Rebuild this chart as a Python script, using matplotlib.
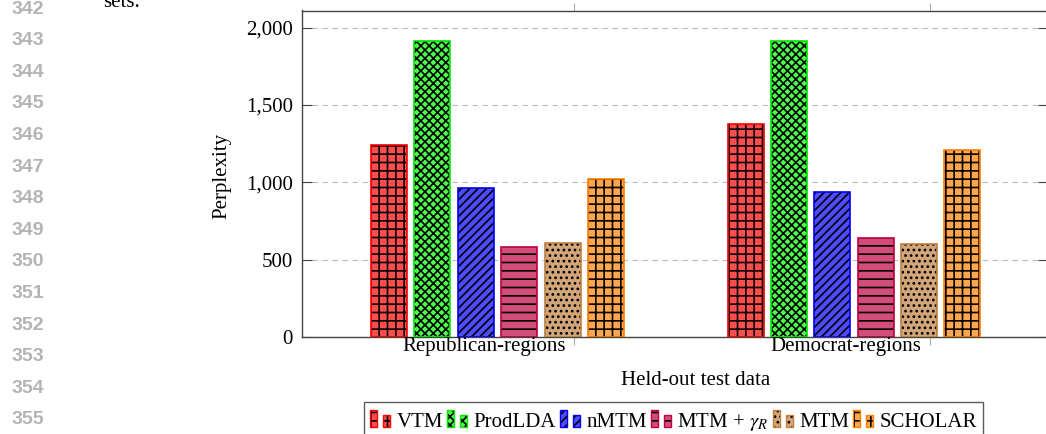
import matplotlib
matplotlib.use("Agg")
import matplotlib.pyplot as plt
from matplotlib.patches import Rectangle
from matplotlib.legend_handler import HandlerBase
import numpy as np

# data
groups = ["Republican-regions", "Democrat-regions"]
models = ["VTM", "ProdLDA", "nMTM", r"MTM + $\gamma_R$", "MTM", "SCHOLAR"]
republican = [1240, 1910, 960, 580, 610, 1020]
democrat = [1375, 1910, 940, 640, 600, 1210]
yticks = [0, 500, 1000, 1500, 2000]
ytick_labels = ["0", "500", "1,000", "1,500", "2,000"]

# pgfplots-ish styles: fill=<c>!70, draw=<c>
fills = ["#ff4d4d", "#4dff4d", "#4d4dff", "#d24d79", "#d2a679", "#ffa64d"]
edges = ["#ff0000", "#00e600", "#0000ff", "#bf0040", "#bf8040", "#ff8000"]
hatches = ["++", "xxxx", "////", "--", "...", "++"]

plt.rcParams["font.family"] = ["Liberation Serif", "DejaVu Serif"]
plt.rcParams["mathtext.fontset"] = "stix"
plt.rcParams["hatch.linewidth"] = 1.2

W, H = 1046, 434
fig = plt.figure(figsize=(W / 100, H / 100), dpi=100)

# axes box in pixels (left 302, top 10.5, bottom 337, right just off canvas)
ax = fig.add_axes([302 / W, 1 - 337 / H, (1047.5 - 302) / W, (337 - 10.5) / H])

step = 0.1217
width = 0.101
x = np.arange(len(groups))
vals = np.array([republican, democrat])
for i in range(len(models)):
    xs = x + (i - 2.5) * step
    ax.bar(xs, vals[:, i], width, color=fills[i], edgecolor="black",
           hatch=hatches[i], linewidth=0, zorder=3)
    ax.bar(xs, vals[:, i], width, color="none", edgecolor=edges[i],
           linewidth=1.2, zorder=4)

ax.set_xlim(-0.5484, 1.5428)
ax.set_ylim(0, 2110)

ax.set_yticks(yticks)
ax.set_yticklabels(ytick_labels, fontsize=15)
ax.tick_params(axis="y", direction="in", length=7, width=0.8, color="#444444",
               right=True, pad=6.5)
ax.set_xticks([0.2146, 1.2130])
ax.set_xticklabels([])
ax.tick_params(axis="x", direction="out", length=6, width=0.8, color="#aaaaaa",
               top=True)
ax.yaxis.grid(True, linestyle=(0, (5, 4)), color="#bbbbbb", linewidth=0.8, zorder=0)
for s in ax.spines.values():
    s.set_color("#444444")
    s.set_linewidth(1.0)

# group labels (pgfplots puts them left of the ticks here)
for gx, name in zip([484, 846], groups):
    fig.text(gx / W, 1 - 351 / H, name, ha="center", va="baseline", fontsize=15)

fig.text(222 / W, 1 - 176 / H, "Perplexity", rotation=90, ha="center",
         va="center", fontsize=15)
fig.text(696 / W, 1 - 385 / H, "Held-out test data", ha="center",
         va="baseline", fontsize=15)

# snippet of surrounding paper text and line numbers
fig.text(103 / W, 1 - 7 / H, "sets.", ha="left", va="baseline", fontsize=15)
for k, num in enumerate(range(342, 356)):
    fig.text(44 / W, 1 - (9 + 31.6 * k) / H, str(num), ha="right", va="center",
             fontsize=14, fontweight="bold", color="#b4b4b4",
             family="Liberation Sans")


class TwoBars(HandlerBase):
    # two small bars, tall then short, like the pgfplots ybar legend image
    def create_artists(self, legend, orig_handle, xdescent, ydescent,
                       width, height, fontsize, trans):
        out = []
        for x0, h in [(0.0, 12.2), (9.4, 8.6)]:
            r = Rectangle((x0 - xdescent, -0.6), 5.0, h,
                          facecolor=orig_handle.get_facecolor(),
                          edgecolor="black", hatch=orig_handle.get_hatch(),
                          linewidth=0, transform=trans)
            e = Rectangle((x0 - xdescent, -0.6), 5.0, h, facecolor="none",
                          edgecolor=orig_handle.get_edgecolor(),
                          linewidth=1.0, transform=trans)
            out += [r, e]
        return out


proxies = [Rectangle((0, 0), 1, 1, facecolor=fills[i], edgecolor=edges[i],
                     hatch=hatches[i]) for i in range(len(models))]
leg = fig.legend(proxies, models, loc="upper left",
                 bbox_to_anchor=(364 / W, 1 - 402 / H), ncol=6, fontsize=15,
                 frameon=True, fancybox=False, edgecolor="#333333",
                 borderaxespad=0, borderpad=0.3, handlelength=0.96,
                 handleheight=1.3, handletextpad=0.3, columnspacing=0.2,
                 handler_map={Rectangle: TwoBars()})
leg.get_frame().set_linewidth(1.0)

fig.savefig("out.png", dpi=100)
